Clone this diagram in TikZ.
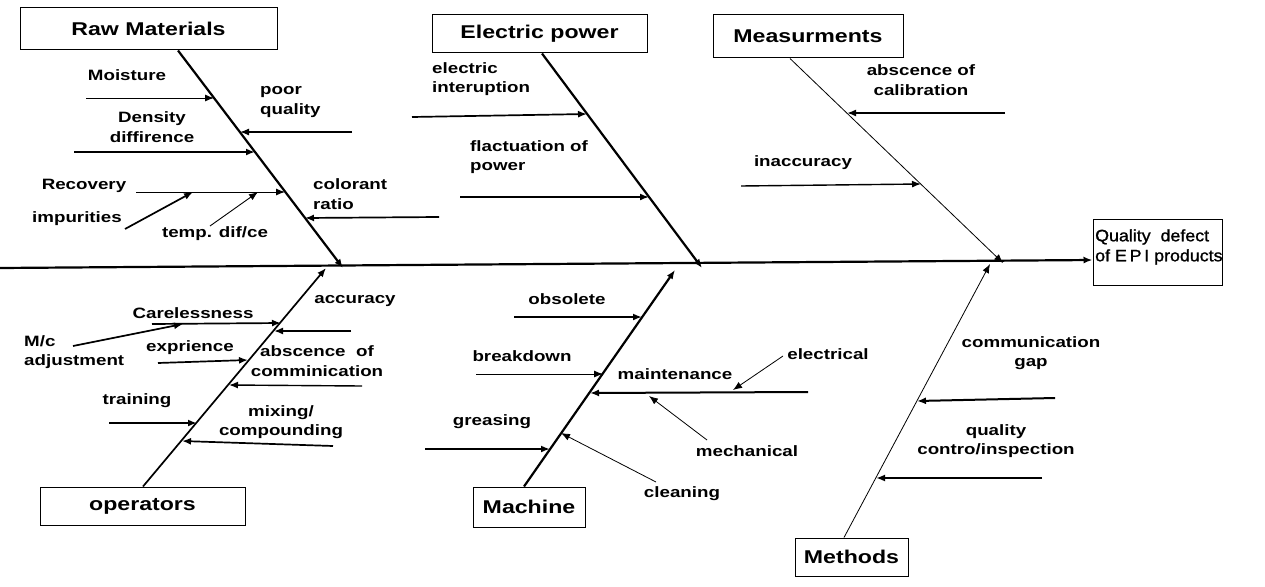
\documentclass[tikz,border=0pt]{standalone}
\usepackage{fontspec}
\setmainfont{Liberation Sans}[FakeStretch=1.25]
\newfontfamily\qfont{Liberation Sans}[FakeStretch=1.08, FakeBold=1.2]
\usetikzlibrary{arrows.meta}
\tikzset{
  box/.style={draw, line width=1pt, inner sep=0pt, font=\fontsize{18.5}{22}\selectfont\bfseries},
  lbl/.style={inner sep=0pt, font=\fontsize{15}{19.5}\selectfont\bfseries, align=center},
  tip/.style={-{Latex[length=9pt,width=7pt]}},
  bone/.style={tip, line width=2.2pt},
  thinbone/.style={tip, line width=0.8pt},
  sub/.style={tip, line width=1.7pt},
  thinsub/.style={tip, line width=0.9pt},
}
\begin{document}
\begin{tikzpicture}[x=1pt,y=-1pt]
\useasboundingbox (0,0) rectangle (1265,586);

% ---------- category boxes ----------
\node[box, minimum width=257pt, minimum height=42pt] (raw) at (148.5,29) {Raw Materials};
\node[box, minimum width=215pt, minimum height=38pt] (elec) at (539.5,34) {Electric power};
\node[box, minimum width=190pt, minimum height=43pt] (meas) at (808,36.5) {Measurments};
\node[box, minimum width=205pt, minimum height=38pt] (oper) at (142.5,506) {operators};
\node[box, minimum width=112pt, minimum height=40pt] (mach) at (529,507) {Machine};
\node[box, minimum width=113pt, minimum height=38pt] (meth) at (851.5,557) {Methods};
\node[draw, line width=1pt, minimum width=129pt, minimum height=66pt, inner sep=0pt] (q) at (1157.5,252) {};
\node[inner sep=0pt, anchor=west, align=left, font=\qfont\fontsize{16.5}{20}\selectfont] (qt) at (1095,247) {Quality\ \ defect\\of E\,P\,I products};

% ---------- spine ----------
\coordinate (spineL) at (0,268);
\draw[bone, line width=2.2pt] (spineL) -- ([yshift=-8pt]q.west);

% ---------- bone end points ----------
\coordinate (rawE) at (343,268);
\coordinate (elecE) at (702,268);
\coordinate (measE) at (1003,263);
\coordinate (operE) at (326,268);
\coordinate (machE) at (675,270);
\coordinate (methE) at (990,264);

\draw[bone] ([xshift=29.5pt]raw.south) -- (rawE);
\draw[bone] ([xshift=2.5pt]elec.south) -- (elecE);
\draw[thinbone] ([xshift=-18pt]meas.south) -- (measE);
\draw[bone, line width=1.7pt] ([xshift=0.5pt]oper.north) -- (operE);
\draw[bone] ([xshift=-5pt]mach.north) -- (machE);
\draw[thinbone] ([xshift=-7.5pt]meth.north) -- (methE);

% ---------- Raw Materials ----------
\node[lbl] (moist) at (127,75) {Moisture};
\node[lbl, anchor=west, align=left] (poor) at (260,102) {poor\\quality};
\node[lbl] (dens) at (152,127) {Density\\diffirence};
\node[lbl] (recov) at (84,186) {Recovery};
\node[lbl] (impur) at (77,219) {impurities};
\node[lbl] (temp) at (215,234) {temp. dif/ce};
\node[lbl, anchor=west, align=left] (color) at (313,194) {colorant\\ratio};

\coordinate (moistS) at (86,98);   \coordinate (moistE) at (214,98);
\coordinate (poorS) at (352,132);  \coordinate (poorE) at (240,132);
\coordinate (densS) at (74,152);   \coordinate (densE) at (255,152);
\coordinate (recovS) at (136,192); \coordinate (recovE) at (285,192);
\coordinate (impurS) at (125,229); \coordinate (impurE) at (193,192);
\coordinate (tempS) at (210,226);  \coordinate (tempE) at (258,192);
\coordinate (colorS) at (439,217); \coordinate (colorE) at (305,218);

\draw[thinsub] (moistS) -- (moistE);
\draw[sub, line width=1.3pt] (poorS) -- (poorE);
\draw[sub, line width=2pt] (densS) -- (densE);
\draw[thinsub] (recovS) -- (recovE);
\draw[sub] (impurS) -- (impurE);
\draw[thinsub] (tempS) -- (tempE);
\draw[sub] (colorS) -- (colorE);

% ---------- Electric power ----------
\node[lbl, anchor=west, align=left] (inter) at (432,79) {electric\\interuption};
\node[lbl, anchor=west, align=left] (flact) at (470,157) {flactuation of\\power};
\coordinate (interS) at (412,117); \coordinate (interE) at (587,114);
\coordinate (flactS) at (460,197); \coordinate (flactE) at (649,197);
\draw[sub] (interS) -- (interE);
\draw[sub] (flactS) -- (flactE);

% ---------- Measurments ----------
\node[lbl] (calib) at (921,80) {abscence of\\calibration};
\node[lbl] (inacc) at (803,163) {inaccuracy};
\coordinate (calibS) at (1005,113); \coordinate (calibE) at (847,113);
\coordinate (inaccS) at (741,186);  \coordinate (inaccE) at (921,184);
\draw[sub] (calibS) -- (calibE);
\draw[sub, line width=1.4pt] (inaccS) -- (inaccE);

% ---------- operators ----------
\node[lbl] (accur) at (355,301) {accuracy};
\node[lbl] (care) at (193,313) {Carelessness};
\node[lbl, anchor=west, align=left] (mc) at (24,352) {M/c\\adjustment};
\node[lbl] (expr) at (190,348) {exprience};
\node[lbl] (absc) at (317,361) {abscence\ \ of\\comminication};
\node[lbl] (train) at (137,401) {training};
\node[lbl] (mix) at (281,422) {mixing/\\compounding};

\coordinate (careS) at (152,324);  \coordinate (careE) at (281,323);
\coordinate (mcS) at (73,346);     \coordinate (mcE) at (183,324);
\coordinate (accurS) at (351,331); \coordinate (accurE) at (274,331);
\coordinate (exprS) at (158,363);  \coordinate (exprE) at (248,360);
\coordinate (abscS) at (362,386);  \coordinate (abscE) at (229,385);
\coordinate (trainS) at (109,423); \coordinate (trainE) at (197,423);
\coordinate (mixS) at (333,446);   \coordinate (mixE) at (182,441);

\draw[sub] (careS) -- (careE);
\draw[sub] (mcS) -- (mcE);
\draw[sub] (accurS) -- (accurE);
\draw[sub] (exprS) -- (exprE);
\draw[sub, line width=1.4pt] (abscS) -- (abscE);
\draw[sub, line width=1.9pt] (trainS) -- (trainE);
\draw[sub] (mixS) -- (mixE);

% ---------- Machine ----------
\node[lbl] (obso) at (567,299) {obsolete};
\node[lbl] (break) at (522,356) {breakdown};
\node[lbl] (maint) at (675,374) {maintenance};
\node[lbl] (elect) at (828,354) {electrical};
\node[lbl] (mech) at (747,451) {mechanical};
\node[lbl] (greas) at (492,422) {greasing};
\node[lbl] (clean) at (682,494) {cleaning};

\coordinate (obsoS) at (514,317);  \coordinate (obsoE) at (642,317);
\coordinate (breakS) at (476,374); \coordinate (breakE) at (603,374);
\coordinate (maintS) at (808,392); \coordinate (maintE) at (590,393);
\coordinate (electS) at (783,356); \coordinate (electE) at (733,390);
\coordinate (mechS) at (707,440);  \coordinate (mechE) at (649,396);
\coordinate (greasS) at (425,449); \coordinate (greasE) at (550,449);
\coordinate (cleanS) at (656,482); \coordinate (cleanE) at (561,433);

\draw[sub, line width=2pt] (obsoS) -- (obsoE);
\draw[thinsub] (breakS) -- (breakE);
\draw[sub, line width=2pt] (maintS) -- (maintE);
\draw[thinsub, line width=0.8pt] (electS) -- (electE);
\draw[thinsub, line width=0.8pt] (mechS) -- (mechE);
\draw[sub, line width=2pt] (greasS) -- (greasE);
\draw[thinsub, line width=0.8pt] (cleanS) -- (cleanE);

% ---------- Methods ----------
\node[lbl] (comm) at (1031,353) {communication\\gap};
\node[lbl] (qual) at (996,441) {quality\\contro/inspection};
\coordinate (commS) at (1055,398); \coordinate (commE) at (917,401);
\coordinate (qualS) at (1042,478); \coordinate (qualE) at (876,478);
\draw[sub, line width=2pt] (commS) -- (commE);
\draw[sub, line width=2pt] (qualS) -- (qualE);

\end{tikzpicture}
\end{document}
